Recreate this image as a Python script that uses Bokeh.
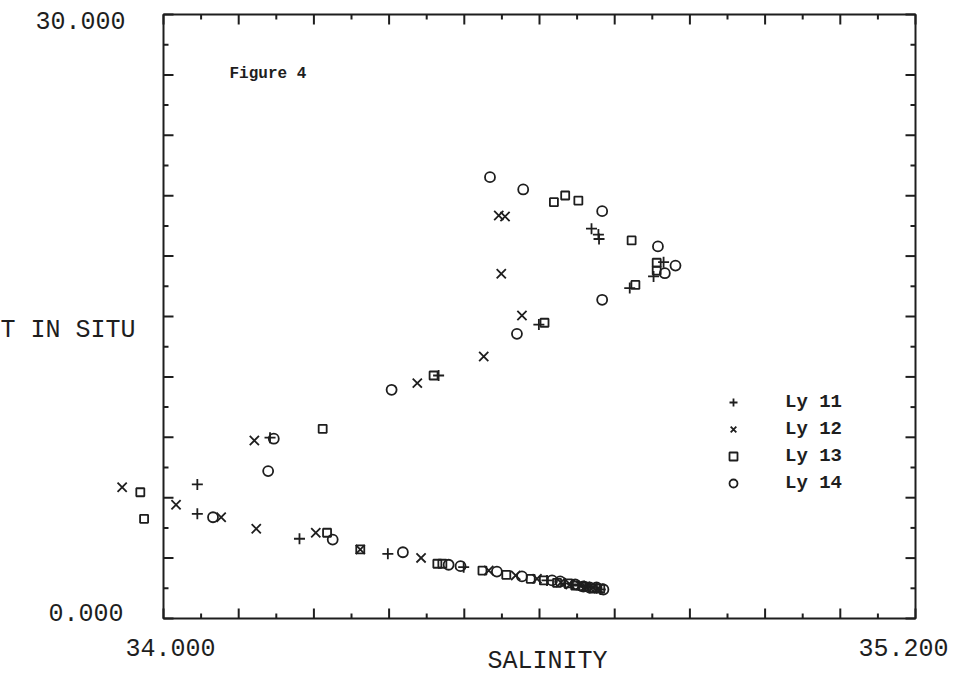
import numpy as np
from bokeh.plotting import figure
from bokeh.models import Range1d, Legend, LegendItem, Label
from bokeh.embed import file_html
from bokeh.resources import INLINE

# ---------------- data ----------------
X_START, X_END = 34.0, 35.2
Y_START, Y_END = 0.0, 30.0

X_MAJOR_TICKS = [34.0, 34.12, 34.24, 34.36, 34.48, 34.6, 34.72, 34.84, 34.96, 35.08, 35.2]
X_MINOR_TICKS = [34.06, 34.18, 34.3, 34.42, 34.54, 34.66, 34.78, 34.9, 35.02, 35.14]
Y_MAJOR_TICKS = [0.0, 3.0, 6.0, 9.0, 12.0, 15.0, 18.0, 21.0, 24.0, 27.0, 30.0]
Y_MINOR_TICKS = [1.5, 4.5, 7.5, 10.5, 13.5, 16.5, 19.5, 22.5, 25.5, 28.5]

SERIES_NAMES = ["Ly 11", "Ly 12", "Ly 13", "Ly 14"]

LY11_SAL = [34.054, 34.054, 34.170, 34.217, 34.358, 34.439, 34.479, 34.599, 34.612,
            34.641, 34.662, 34.681, 34.683, 34.694, 34.695, 34.744, 34.782, 34.798,
            34.653, 34.673, 34.697]
LY11_T = [6.66, 5.20, 8.98, 3.96, 3.21, 12.07, 2.55, 14.60, 1.89,
          1.74, 1.64, 1.54, 19.36, 19.07, 18.85, 16.41, 16.99, 17.70,
          1.69, 1.59, 1.44]

LY12_SAL = [33.934, 34.020, 34.092, 34.145, 34.148, 34.243, 34.314, 34.405, 34.411,
            34.511, 34.519, 34.535, 34.545, 34.539, 34.562, 34.572, 34.596, 34.649,
            34.673, 34.694, 34.634, 34.665, 34.685]
LY12_T = [6.52, 5.65, 5.03, 8.84, 4.46, 4.26, 3.43, 11.69, 3.01,
          13.01, 2.38, 20.02, 19.97, 17.12, 2.14, 15.05, 1.97, 1.69,
          1.59, 1.49, 1.79, 1.64, 1.54]

LY13_SAL = [33.963, 33.969, 34.254, 34.261, 34.314, 34.431, 34.437, 34.445, 34.509,
            34.547, 34.586, 34.608, 34.607, 34.623, 34.628, 34.641, 34.662, 34.657,
            34.685, 34.747, 34.753, 34.787, 34.787, 34.646, 34.670, 34.697]
LY13_T = [6.27, 4.95, 9.42, 4.26, 3.43, 12.07, 2.72, 2.72, 2.38,
          2.17, 1.97, 14.69, 1.89, 20.68, 1.77, 21.01, 20.76, 1.64,
          1.49, 18.78, 16.57, 17.67, 17.28, 1.74, 1.59, 1.49]

LY14_SAL = [34.079, 34.167, 34.176, 34.270, 34.364, 34.382, 34.455, 34.474, 34.521,
            34.532, 34.564, 34.572, 34.574, 34.620, 34.633, 34.670, 34.700, 34.700,
            34.691, 34.789, 34.800, 34.817, 34.657, 34.680, 34.702]
LY14_T = [5.03, 7.32, 8.93, 3.92, 11.36, 3.29, 2.67, 2.60, 21.92,
          2.33, 14.14, 2.09, 21.31, 1.89, 1.84, 1.59, 20.23, 15.83,
          1.54, 18.48, 17.15, 17.53, 1.69, 1.54, 1.44]

X_LABEL = "SALINITY"
Y_LABEL = "T IN SITU"
NOTE = "Figure 4"

# ---------------- layout (pixels) ----------------
W, H = 960, 682
BOX_L, BOX_R, BOX_T, BOX_B = 163, 915, 14, 618
MAJOR_LEN, MINOR_LEN = 10, 5

INK = "#1e1e1e"
TICK_FONT = "Liberation Mono"
TICK_SIZE = "25px"

# data units per pixel, so the drawn box (34..35.2, 0..30) sits where the
# reference puts it while points outside the box are still visible
sx = (X_END - X_START) / (BOX_R - BOX_L)
sy = (Y_END - Y_START) / (BOX_B - BOX_T)

p = figure(width=W, height=H, output_backend="svg", toolbar_location=None,
           x_range=Range1d(X_START - BOX_L * sx, X_END + (W - BOX_R) * sx),
           y_range=Range1d(Y_START - (H - BOX_B) * sy, Y_END + BOX_T * sy),
           x_axis_location=None, y_axis_location=None,
           min_border=0)
p.grid.visible = False
p.outline_line_color = None
p.background_fill_color = "white"
p.border_fill_color = "white"

# ---------------- frame and ticks ----------------
p.quad(left=[X_START], right=[X_END], bottom=[Y_START], top=[Y_END],
       fill_color=None, line_color=INK, line_width=2)

xmaj = np.array(X_MAJOR_TICKS)
xmin = np.array(X_MINOR_TICKS)
ymaj = np.array(Y_MAJOR_TICKS)
ymin = np.array(Y_MINOR_TICKS)

for ticks, ln in ((xmaj, MAJOR_LEN), (xmin, MINOR_LEN)):
    # bottom edge, pointing in
    p.segment(x0=ticks, y0=np.full(len(ticks), Y_START), x1=ticks,
              y1=np.full(len(ticks), Y_START + ln * sy), line_color=INK, line_width=2)
    # top edge, pointing in
    p.segment(x0=ticks, y0=np.full(len(ticks), Y_END), x1=ticks,
              y1=np.full(len(ticks), Y_END - ln * sy), line_color=INK, line_width=2)
for ticks, ln in ((ymaj, MAJOR_LEN), (ymin, MINOR_LEN)):
    p.segment(x0=np.full(len(ticks), X_START), y0=ticks,
              x1=np.full(len(ticks), X_START + ln * sx), y1=ticks, line_color=INK, line_width=2)
    p.segment(x0=np.full(len(ticks), X_END), y0=ticks,
              x1=np.full(len(ticks), X_END - ln * sx), y1=ticks, line_color=INK, line_width=2)

# ---------------- tick labels (only the two ends, as in the reference) ----------------
def lab(x, y, text, xo, yo, align, font=TICK_FONT, size=TICK_SIZE, style="normal"):
    p.add_layout(Label(x=x, y=y, x_offset=xo, y_offset=yo, text=text,
                       text_align=align, text_baseline="middle",
                       text_font=font, text_font_size=size,
                       text_font_style=style, text_color=INK))

lab(X_START, Y_END, f"{Y_END:.3f}", -38, -6, "right")
lab(X_START, Y_START, f"{Y_START:.3f}", -40, 6, "right")
lab(X_START, Y_START, f"{X_START:.3f}", 7, -29, "center")
lab(X_END, Y_START, f"{X_END:.3f}", -12, -29, "center")

# axis titles
lab(X_START, (Y_START + Y_END) / 2, Y_LABEL, -163, -14, "left")
lab((X_START + X_END) / 2, Y_START, X_LABEL, 8, -43, "center")

# note
lab(X_START, Y_END, NOTE, 66, -59, "left", font="Liberation Mono", size="16px", style="bold")

# ---------------- markers ----------------
common = dict(fill_color=None, line_color=INK, line_width=1.8)
r11 = p.scatter(LY11_SAL, LY11_T, marker="cross", size=11, **common)
r12 = p.scatter(LY12_SAL, LY12_T, marker="x", size=13, **common)
r13 = p.scatter(LY13_SAL, LY13_T, marker="square", size=8, **common)
r14 = p.scatter(LY14_SAL, LY14_T, marker="circle", size=10, **common)

legend = Legend(items=[LegendItem(label=SERIES_NAMES[0], renderers=[r11]),
                       LegendItem(label=SERIES_NAMES[1], renderers=[r12]),
                       LegendItem(label=SERIES_NAMES[2], renderers=[r13]),
                       LegendItem(label=SERIES_NAMES[3], renderers=[r14])],
                location=(723, 188))
legend.border_line_color = None
legend.background_fill_alpha = 0
legend.padding = 0
legend.margin = 0
legend.glyph_width = 20
legend.glyph_height = 20
legend.spacing = 5
legend.label_standoff = 42
legend.label_text_font = "Liberation Mono"
legend.label_text_font_style = "bold"
legend.label_text_font_size = "19px"
legend.label_text_color = INK
p.add_layout(legend)

open("out.html", "w").write(file_html(p, INLINE))
